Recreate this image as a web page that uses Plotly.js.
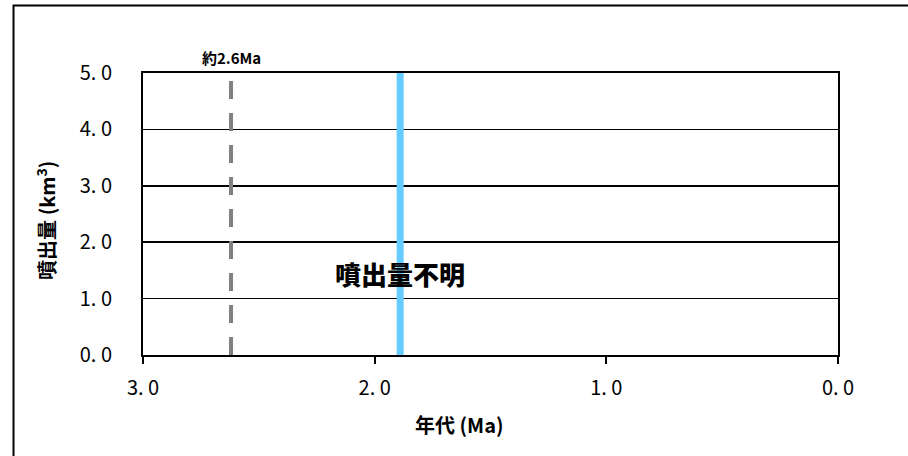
<!DOCTYPE html>
<html><head><meta charset="utf-8">
<script src="https://cdn.plot.ly/plotly-3.0.1.min.js"></script>
<style>html,body{margin:0;padding:0;background:#fff}#chart{width:908px;height:456px}</style>
</head><body><div id="chart"></div>
<script>
// data
const xTickVals = [3, 2, 1, 0];
const xTickText = ["3. 0", "2. 0", "1. 0", "0. 0"];
const yTickVals = [0, 1, 2, 3, 4, 5];
const yTickText = ["0. 0", "1. 0", "2. 0", "3. 0", "4. 0", "5. 0"];
const refAge = [2.62, 2.62];        // 約2.6Ma dashed line
const refVol = [0, 5];
const eruptionAge = [1.89, 1.89];   // eruption (volume unknown)
const eruptionVol = [0, 5];
const refLabel = "約2.6Ma";
const unknownLabel = "噴出量不明";
const xTitle = "年代 (Ma)";
const yTitle = "噴出量 (km<sup>3</sup>)";

const jp = '"Noto Sans CJK JP", "DejaVu Sans", sans-serif';
const traces = [
  {x: refAge, y: refVol, mode: 'lines', line: {color: '#808080', width: 4, dash: '18px,14px'}, hoverinfo: 'skip', showlegend: false},
  {x: eruptionAge, y: eruptionVol, mode: 'lines', line: {color: '#66CCFF', width: 7}, hoverinfo: 'skip', showlegend: false}
];
const layout = {
  width: 908, height: 456,
  margin: {l: 143, r: 70, t: 73, b: 101},
  paper_bgcolor: '#fff', plot_bgcolor: '#fff',
  showlegend: false,
  font: {family: jp, color: '#000'},
  xaxis: {
    range: [3, 0], tickvals: xTickVals, ticktext: xTickText,
    ticks: 'outside', ticklen: 7, tickwidth: 2, tickcolor: '#000',
    ticklabelstandoff: 7,
    showline: true, linecolor: '#000', linewidth: 2, mirror: true,
    showgrid: false, zeroline: false,
    tickfont: {size: 20, family: jp, color: '#000'}
  },
  yaxis: {
    range: [0, 5], tickvals: yTickVals, ticktext: yTickText,
    ticks: '', ticklabelstandoff: 25,
    showline: true, linecolor: '#000', linewidth: 2, mirror: true,
    showgrid: true, gridcolor: '#000', gridwidth: 1.5, zeroline: false,
    tickfont: {size: 20, family: jp, color: '#000'}
  },
  shapes: [
    {type: 'rect', xref: 'paper', yref: 'paper', x0: -0.1863, x1: 1.3, y0: -0.6, y1: 1.2394,
     line: {color: '#000', width: 2}, fillcolor: 'rgba(0,0,0,0)', layer: 'below'}
  ],
  annotations: [
    {x: refAge[0], y: 5, xref: 'x', yref: 'y', yshift: 16, text: refLabel, showarrow: false,
     xanchor: 'center', yanchor: 'middle', font: {size: 15, family: jp, color: '#000', weight: 700}},
    {x: eruptionAge[0], y: 1.445, xref: 'x', yref: 'y', text: unknownLabel, showarrow: false,
     xanchor: 'center', yanchor: 'middle', font: {size: 26, family: jp, color: '#000', weight: 900}},
    {x: 0.456, y: -0.245, xref: 'paper', yref: 'paper', text: xTitle, showarrow: false,
     xanchor: 'center', yanchor: 'middle', font: {size: 20, family: jp, color: '#000', weight: 700}},
    {x: -0.1396, y: 0.479, xref: 'paper', yref: 'paper', text: yTitle, showarrow: false, textangle: -90,
     xanchor: 'center', yanchor: 'middle', font: {size: 20, family: jp, color: '#000', weight: 700}}
  ]
};
Plotly.newPlot('chart', traces, layout, {staticPlot: true, displayModeBar: false});
</script></body></html>
